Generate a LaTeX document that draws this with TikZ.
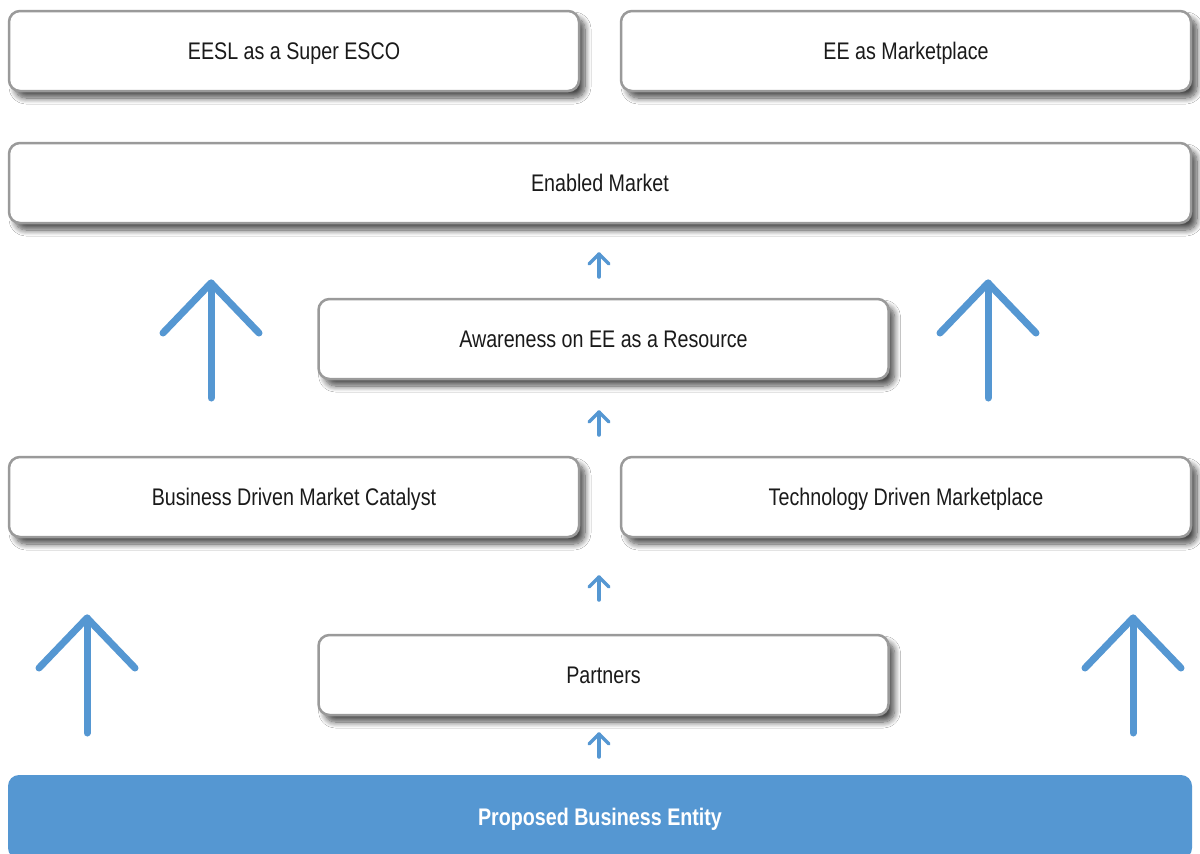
\documentclass[tikz,border=0pt]{standalone}
\usepackage{fontspec}
\setmainfont[FakeStretch=0.82]{Liberation Sans}
\usetikzlibrary{shadows.blur}
\definecolor{eblue}{HTML}{5597D2}
\definecolor{egray}{HTML}{9A9A9A}
\definecolor{etext}{HTML}{1A1A1A}
\begin{document}
\begin{tikzpicture}[x=1pt,y=-1pt,
  box/.style={draw=egray, line width=2.5pt, rounded corners=11pt, fill=white,
    minimum height=80pt, inner sep=0pt, text=etext, text height=17.5pt, text depth=0pt,
    font=\fontsize{24}{28}\selectfont,
    blur shadow={shadow xshift=6pt, shadow yshift=-7pt, shadow blur steps=10,
      shadow blur radius=6pt, shadow opacity=70}},
  halfbox/.style={box, minimum width=570pt},
  fullbox/.style={box, minimum width=1182pt},
  entity/.style={fill=eblue, draw=none, rounded corners=11pt, minimum width=1184pt,
    minimum height=84pt, inner sep=0pt, text=white, text height=17.5pt, text depth=0pt,
    font=\fontsize{24}{28}\selectfont\bfseries},
  bigarrow/.style={draw=eblue, line width=7pt, line cap=round, line join=round},
  smallarrow/.style={draw=eblue, line width=3.5pt, line cap=round, line join=round},
  upbig/.pic={\draw[bigarrow] (0,0) -- (0,-115);
              \draw[bigarrow] (-48,-65) -- (0,-115) -- (48,-65);},
  upsmall/.pic={\draw[smallarrow] (0,0) -- (0,-23);
                \draw[smallarrow] (-10,-13) -- (0,-23) -- (10,-13);}
]
\useasboundingbox[fill=white] (0,0) rectangle (1200,854);

\node[halfbox] (eesl) at (294,51) {EESL as a Super ESCO};
\node[halfbox] (eemk) at (906,51) {EE as Marketplace};
\node[fullbox] (enabled) at (600,183) {Enabled Market};
\node[halfbox] (aware) at (603.5,339) {Awareness on EE as a Resource};
\node[halfbox] (bdmc) at (294,497) {Business Driven Market Catalyst};
\node[halfbox] (tdm) at (906,497) {Technology Driven Marketplace};
\node[halfbox] (partners) at (603.5,675) {Partners};
\node[entity] (pbe) at (600,817) {Proposed Business Entity};

\pic (bigL1) at (211,398) {upbig};
\pic (bigR1) at (988,398) {upbig};
\pic (bigL2) at (87,733) {upbig};
\pic (bigR2) at (1133,733) {upbig};

\pic (s1) at (599,277) {upsmall};
\pic (s2) at (599,435) {upsmall};
\pic (s3) at (599,600) {upsmall};
\pic (s4) at (599,757) {upsmall};
\end{tikzpicture}
\end{document}
